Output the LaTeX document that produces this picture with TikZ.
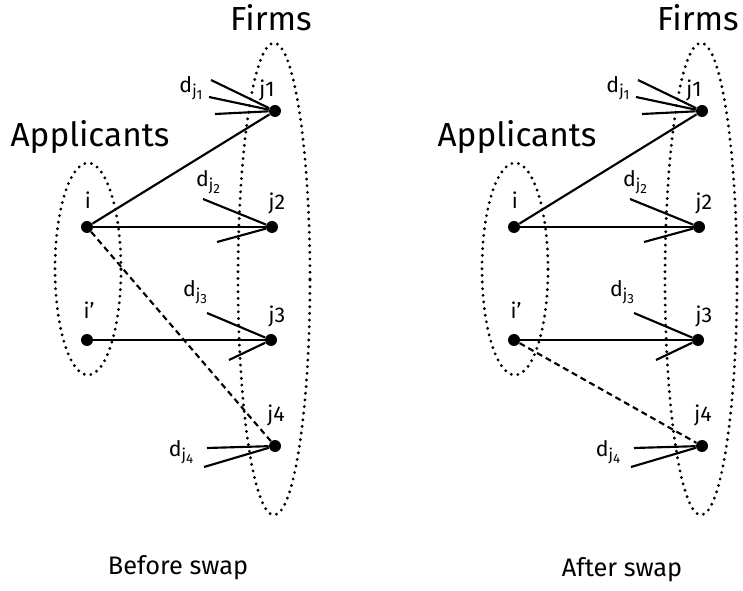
\documentclass[tikz,border=0pt]{standalone}
\usepackage{fontspec}
\setmainfont{Fira Sans}
\usepackage{tikz}
\usetikzlibrary{arrows}

\newcommand{\dsub}[1]{d\raisebox{-0.4ex}{\fontsize{12pt}{12}\selectfont j\raisebox{-0.35ex}{\fontsize{10pt}{10}\selectfont #1}}}

\begin{document}
\begin{tikzpicture}[x=0.75pt,y=-0.75pt,semithick]
\tikzstyle{dot}=[circle,fill=black,inner sep=0pt,minimum size=9pt]
\tikzstyle{grp}=[draw,line width=2.4pt,dash pattern=on 0pt off 5pt,line cap=round]
\tikzstyle{tie}=[line width=1.6pt]
\tikzstyle{swap}=[line width=1.6pt,dash pattern=on 4.5pt off 3pt]
\tikzstyle{title}=[font=\fontsize{25pt}{27}\selectfont]
\tikzstyle{caption}=[font=\fontsize{19pt}{21}\selectfont]
\tikzset{font=\fontsize{16pt}{18}\selectfont}

\useasboundingbox (0,0) rectangle (743,591);

% before the swap
\begin{scope}[name prefix=b-]
  \draw[grp] (88,269) ellipse [x radius=24.75pt, y radius=79.5pt];
  \draw[grp] (274,279) ellipse [x radius=27pt, y radius=177pt];

  \node[title]   (firms) at (271,18)  {Firms};
  \node[title]   (apps)  at (90,137)  {Applicants};
  \node[caption] (cap)   at (178,568) {Before swap};

  \node[dot] (i)  at (87,227)  {};
  \node[dot] (ip) at (87,340)  {};
  \node[dot] (j1) at (275,111) {};
  \node[dot] (j2) at (272,227) {};
  \node[dot] (j3) at (271,340) {};
  \node[dot] (j4) at (275,446) {};

  \node (li)  at (88,200)  {i};
  \node (lip) at (89,310)  {i'};
  \node (lj1) at (267,90)  {j1};
  \node (lj2) at (277,203) {j2};
  \node (lj3) at (277,316) {j3};
  \node (lj4) at (276,415) {j4};

  \node (d1) at (191,88)  {\dsub{1}};
  \node (d2) at (208,182) {\dsub{2}};
  \node (d3) at (195,292) {\dsub{3}};
  \node (d4) at (181,452) {\dsub{4}};

  \coordinate (e1a) at (211,80);
  \coordinate (e1b) at (209,97);
  \coordinate (e1c) at (215,114);
  \coordinate (e2a) at (203,199);
  \coordinate (e2b) at (217,242);
  \coordinate (e3a) at (207,313);
  \coordinate (e3b) at (229,360);
  \coordinate (e4a) at (207,448);
  \coordinate (e4b) at (204,467);

  \path[tie]
  (e1a) edge (j1)
  (e1b) edge (j1)
  (e1c) edge (j1)
  (e2a) edge (j2)
  (e2b) edge (j2)
  (e3a) edge (j3)
  (e3b) edge (j3)
  (e4a) edge (j4)
  (e4b) edge (j4)
  (i)   edge (j1)
  (i)   edge (j2)
  (ip)  edge (j3)
  (i)   edge [swap] (j4)
  ; %end path
\end{scope}

% after the swap
\begin{scope}[xshift=320.25pt,name prefix=a-]
  \draw[grp] (88,269) ellipse [x radius=24.75pt, y radius=79.5pt];
  \draw[grp] (274,279) ellipse [x radius=27pt, y radius=177pt];

  \node[title]   (firms) at (271,18)  {Firms};
  \node[title]   (apps)  at (90,137)  {Applicants};
  \node[caption] (cap)   at (195,570) {After swap};

  \node[dot] (i)  at (87,227)  {};
  \node[dot] (ip) at (87,340)  {};
  \node[dot] (j1) at (275,111) {};
  \node[dot] (j2) at (272,227) {};
  \node[dot] (j3) at (271,340) {};
  \node[dot] (j4) at (275,446) {};

  \node (li)  at (88,200)  {i};
  \node (lip) at (89,310)  {i'};
  \node (lj1) at (267,90)  {j1};
  \node (lj2) at (277,203) {j2};
  \node (lj3) at (277,316) {j3};
  \node (lj4) at (276,415) {j4};

  \node (d1) at (191,88)  {\dsub{1}};
  \node (d2) at (208,182) {\dsub{2}};
  \node (d3) at (195,292) {\dsub{3}};
  \node (d4) at (181,452) {\dsub{4}};

  \coordinate (e1a) at (211,80);
  \coordinate (e1b) at (209,97);
  \coordinate (e1c) at (215,114);
  \coordinate (e2a) at (203,199);
  \coordinate (e2b) at (217,242);
  \coordinate (e3a) at (207,313);
  \coordinate (e3b) at (229,360);
  \coordinate (e4a) at (207,448);
  \coordinate (e4b) at (204,467);

  \path[tie]
  (e1a) edge (j1)
  (e1b) edge (j1)
  (e1c) edge (j1)
  (e2a) edge (j2)
  (e2b) edge (j2)
  (e3a) edge (j3)
  (e3b) edge (j3)
  (e4a) edge (j4)
  (e4b) edge (j4)
  (i)   edge (j1)
  (i)   edge (j2)
  (ip)  edge (j3)
  (ip)  edge [swap] (j4)
  ; %end path
\end{scope}
\end{tikzpicture}
\end{document}
